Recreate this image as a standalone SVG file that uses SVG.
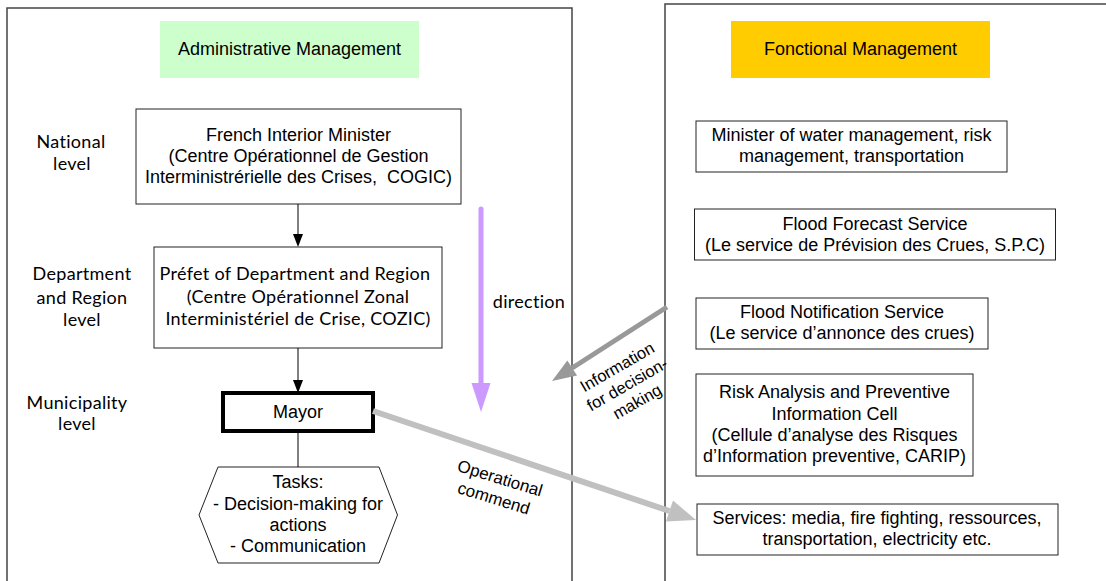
<svg xmlns="http://www.w3.org/2000/svg" width="1106" height="581" viewBox="0 0 1106 581">
<defs>
<style>
.panel{fill:none;stroke:#444;stroke-width:1.5}
.box{fill:#fff;stroke:#222;stroke-width:1}
.t{font-family:"Liberation Sans",Arial,sans-serif;font-size:18px;fill:#000;text-anchor:middle}
.c{font-family:Lato,"Open Sans",sans-serif;font-size:18px;fill:#000;text-anchor:middle;letter-spacing:0.3px}
.r{font-family:"Liberation Sans",Arial,sans-serif;font-size:16.5px;fill:#000;text-anchor:middle}
.blk{stroke:#000;stroke-width:1;fill:none}
</style>
<marker id="hb" markerUnits="userSpaceOnUse" markerWidth="13" markerHeight="10" refX="0" refY="5" orient="auto" overflow="visible"><path d="M0,0 L13,5 L0,10 z" fill="#000"/></marker>
<marker id="hp" markerUnits="userSpaceOnUse" markerWidth="29" markerHeight="19" refX="0" refY="9.5" orient="auto" overflow="visible"><path d="M0,0 L29,9.5 L0,19 z" fill="#CC99FF"/></marker>
<marker id="hg" markerUnits="userSpaceOnUse" markerWidth="24" markerHeight="18" refX="0" refY="9" orient="auto" overflow="visible"><path d="M0,0 L24,9 L0,18 z" fill="#999"/></marker>
<marker id="hl" markerUnits="userSpaceOnUse" markerWidth="28" markerHeight="22" refX="0" refY="11" orient="auto" overflow="visible"><path d="M0,0 L28,11 L0,22 z" fill="#C0C0C0"/></marker>
</defs>
<rect width="1106" height="581" fill="#fff"/>

<g id="panel-admin"><path class="panel" d="M7,590 V8 H572 V590"/></g>
<g id="panel-func"><path class="panel" d="M665,590 V4 H1110"/></g>

<g id="admin-title"><rect x="160" y="21" width="259" height="57" fill="#CCFFCC"/><text class="t" x="289.5" y="55">Administrative Management</text></g>
<g id="func-title"><rect x="731" y="21" width="259" height="57" fill="#FFCC00"/><text class="t" x="860.5" y="55">Fonctional Management</text></g>

<g id="label-national"><text class="c" x="71" y="148">National</text><text class="c" x="72" y="170">level</text></g>
<g id="label-department"><text class="c" x="82" y="280">Department</text><text class="c" x="82" y="304">and Region</text><text class="c" x="82" y="326">level</text></g>
<g id="label-municipality"><text class="c" x="77" y="409">Municipality</text><text class="c" x="77" y="430">level</text></g>

<g id="node-minister"><rect class="box" x="136" y="109" width="325" height="95"/>
<text class="t" x="298.5" y="141">French Interior Minister</text>
<text class="t" x="298.5" y="162">(Centre Opérationnel de Gestion</text>
<text class="t" x="298.5" y="183" xml:space="preserve">Interministrérielle des Crises,  COGIC)</text></g>

<g id="node-prefet"><rect class="box" x="154" y="247" width="288" height="101"/>
<text class="c" x="295" y="280">Préfet of Department and Region</text>
<text class="c" x="298" y="303">(Centre Opérationnel Zonal</text>
<text class="c" x="298" y="325">Interministériel de Crise, COZIC)</text></g>

<g id="node-mayor"><rect x="223" y="393" width="150" height="38" fill="#fff" stroke="#000" stroke-width="4"/>
<text class="t" x="298" y="418">Mayor</text></g>

<g id="node-tasks"><polygon points="218,467 379,467 397.5,515 379,563 218,563 199,515" fill="#fff" stroke="#222" stroke-width="1"/>
<text class="t" x="298" y="488">Tasks:</text>
<text class="t" x="298" y="510">- Decision-making for</text>
<text class="t" x="298" y="531">actions</text>
<text class="t" x="298" y="552">- Communication</text></g>

<g id="node-water"><rect class="box" x="696" y="121" width="311" height="51"/>
<text class="t" x="851.5" y="141">Minister of water management, risk</text>
<text class="t" x="851.5" y="162">management, transportation</text></g>

<g id="node-forecast"><rect class="box" x="694.5" y="209" width="361" height="51"/>
<text class="t" x="875" y="230">Flood Forecast Service</text>
<text class="t" x="875" y="251">(Le service de Prévision des Crues, S.P.C)</text></g>

<g id="node-notification"><rect class="box" x="696" y="298" width="292" height="51"/>
<text class="t" x="842" y="318">Flood Notification Service</text>
<text class="t" x="842" y="339">(Le service d’annonce des crues)</text></g>

<g id="node-risk"><rect class="box" x="696" y="374" width="277" height="102"/>
<text class="t" x="834.5" y="398">Risk Analysis and Preventive</text>
<text class="t" x="834.5" y="420">Information Cell</text>
<text class="t" x="834.5" y="441">(Cellule d’analyse des Risques</text>
<text class="t" x="834.5" y="462">d’Information preventive, CARIP)</text></g>

<g id="node-services"><rect class="box" x="697" y="504" width="361" height="51"/>
<text class="t" x="877" y="524">Services: media, fire fighting, ressources,</text>
<text class="t" x="877" y="545">transportation, electricity etc.</text></g>

<g id="connectors">
<line class="blk" x1="298" y1="204" x2="298" y2="234" marker-end="url(#hb)"/>
<line class="blk" x1="298" y1="348" x2="298" y2="380" marker-end="url(#hb)"/>
<line class="blk" x1="298" y1="431" x2="298" y2="467"/>
<line x1="481" y1="209" x2="481" y2="383" stroke="#CC99FF" stroke-width="5" stroke-linecap="round" marker-end="url(#hp)"/>
<line x1="667" y1="307" x2="572.2" y2="368" stroke="#999" stroke-width="5" marker-end="url(#hg)"/>
<line x1="373" y1="411" x2="669.5" y2="511" stroke="#C0C0C0" stroke-width="6" marker-end="url(#hl)"/>
</g>

<g id="label-direction"><text class="c" x="529" y="308">direction</text></g>
<g id="label-information" transform="translate(627,384) rotate(-30)">
<text class="r" x="0" y="-14">Information</text>
<text class="r" x="0" y="6">for decision-</text>
<text class="r" x="0" y="26">making</text></g>
<g id="label-operational" transform="translate(497,488) rotate(17)">
<text class="r" x="0" y="-4.5" style="font-size:17px">Operational</text>
<text class="r" x="0" y="16.5" style="font-size:17px">commend</text></g>
</svg>
